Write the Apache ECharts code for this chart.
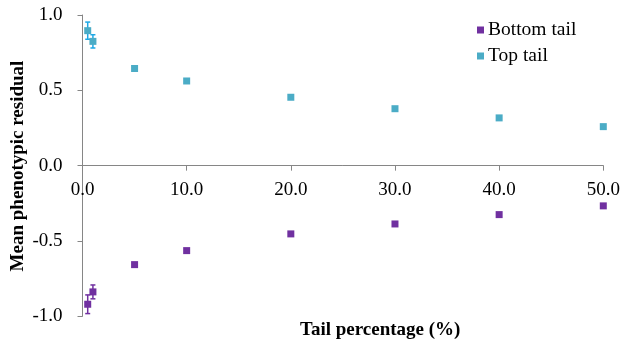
<!DOCTYPE html>
<html>
<head>
<meta charset="utf-8">
<script src="https://cdn.jsdelivr.net/npm/echarts@6/dist/echarts.min.js"></script>
<style>
  html, body { margin: 0; padding: 0; background: #fff; }
  #chart { width: 620px; height: 345px; }
</style>
</head>
<body>
<div id="chart"></div>
<script>
// Tail percentages sampled
const tailPct = [0.5, 1, 5, 10, 20, 30, 40, 50];
// Mean phenotypic residual for each tail, with standard errors
const bottomMean = [-0.920, -0.838, -0.657, -0.564, -0.453, -0.387, -0.325, -0.267];
const bottomErr  = [0.062, 0.046, 0.012, 0.008, 0.006, 0.006, 0.005, 0.005];
const topMean = [0.896, 0.825, 0.645, 0.562, 0.454, 0.378, 0.317, 0.259];
const topErr  = [0.057, 0.044, 0.012, 0.008, 0.006, 0.006, 0.005, 0.005];
const yTicks = [-1.0, -0.5, 0.0, 0.5, 1.0];
const xTicks = [0, 10, 20, 30, 40, 50];

const serif = '"Liberation Serif", "Times New Roman", serif';
const purple = '#7030A0';
const aqua = '#4BACC6';
const aquaErr = '#1EA8E6';

// plot area
const gridLeft = 82.5, gridTop = 15, gridW = 520.8, gridH = 301.3;
// the horizontal axis crosses the vertical one at y = 0
const yMin = yTicks[0], yMax = yTicks[yTicks.length - 1];
const xAxisLift = gridH * (0 - yMin) / (yMax - yMin);

function points(means) {
  return tailPct.map((x, i) => [x, means[i]]);
}
function errRows(means, errs) {
  return tailPct.map((x, i) => [x, means[i] - errs[i], means[i] + errs[i]]);
}
function errorBar(color) {
  return function (params, api) {
    const lo = api.coord([api.value(0), api.value(1)]);
    const hi = api.coord([api.value(0), api.value(2)]);
    const cap = 2.5;
    const style = { stroke: color, lineWidth: 1.5 };
    return {
      type: 'group',
      children: [
        { type: 'line', shape: { x1: lo[0], y1: lo[1], x2: hi[0], y2: hi[1] }, style },
        { type: 'line', shape: { x1: lo[0] - cap, y1: lo[1], x2: lo[0] + cap, y2: lo[1] }, style },
        { type: 'line', shape: { x1: hi[0] - cap, y1: hi[1], x2: hi[0] + cap, y2: hi[1] }, style }
      ]
    };
  };
}

const chart = echarts.init(document.getElementById('chart'), null, { renderer: 'canvas' });
chart.setOption({
  animation: false,
  backgroundColor: '#fff',
  grid: { left: gridLeft, top: gridTop, width: gridW, height: gridH, containLabel: false, outerBoundsMode: 'none' },
  legend: {
    left: 472, top: 15, orient: 'vertical',
    itemWidth: 7, itemHeight: 7, itemGap: 6,
    icon: 'rect',
    textStyle: { fontFamily: serif, fontSize: 19.5, color: '#000', padding: [0, 0, 0, -1] },
    data: [
      { name: 'Bottom tail', itemStyle: { color: purple } },
      { name: 'Top tail', itemStyle: { color: aqua } }
    ]
  },
  // axis titles
  graphic: [
    {
      type: 'text', left: 300, top: 321,
      style: { text: 'Tail percentage (%)', font: 'bold 19px ' + serif, fill: '#000' }
    },
    {
      type: 'text', x: 18, y: 166, rotation: Math.PI / 2,
      style: {
        text: 'Mean phenotypic residual', font: 'bold 19px ' + serif, fill: '#000',
        textAlign: 'center', textVerticalAlign: 'middle'
      }
    }
  ],
  xAxis: {
    type: 'value', min: xTicks[0], max: xTicks[xTicks.length - 1], interval: 10,
    position: 'bottom', offset: -xAxisLift,
    axisLine: { onZero: false, lineStyle: { color: '#868686', width: 1 } },
    axisTick: { inside: false, length: 5, lineStyle: { color: '#868686' } },
    axisLabel: { fontFamily: serif, fontSize: 19, color: '#000', margin: 15, formatter: v => v.toFixed(1) },
    splitLine: { show: false }
  },
  yAxis: {
    type: 'value', min: yMin, max: yMax, interval: 0.5,
    axisLine: { show: true, onZero: false, lineStyle: { color: '#868686', width: 1 } },
    axisTick: { show: true, inside: false, length: 5, lineStyle: { color: '#868686' } },
    axisLabel: { fontFamily: serif, fontSize: 19, color: '#000', margin: 20, formatter: v => v.toFixed(1) },
    splitLine: { show: false }
  },
  series: [
    {
      name: 'Bottom tail', type: 'custom', renderItem: errorBar(purple), itemStyle: { color: purple },
      data: errRows(bottomMean, bottomErr), z: 2, silent: true
    },
    {
      name: 'Top tail', type: 'custom', renderItem: errorBar(aquaErr), itemStyle: { color: aqua },
      data: errRows(topMean, topErr), z: 2, silent: true
    },
    {
      name: 'Bottom tail', type: 'scatter', symbol: 'rect', symbolSize: 7,
      itemStyle: { color: purple, opacity: 1 }, data: points(bottomMean), z: 3
    },
    {
      name: 'Top tail', type: 'scatter', symbol: 'rect', symbolSize: 7,
      itemStyle: { color: aqua, opacity: 1 }, data: points(topMean), z: 3
    }
  ]
});
</script>
</body>
</html>
